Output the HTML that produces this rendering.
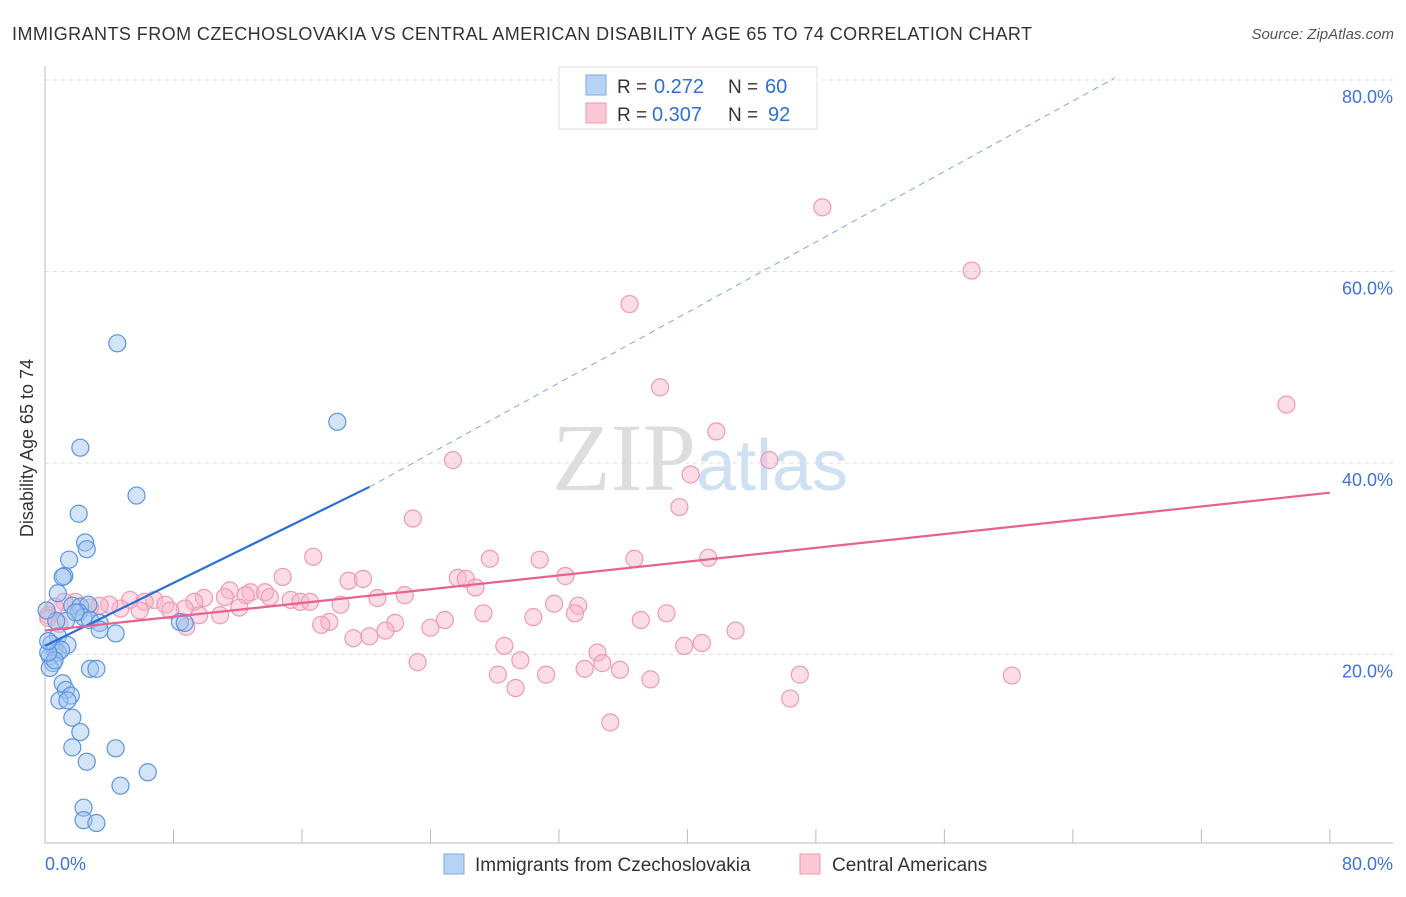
<!DOCTYPE html>
<html><head><meta charset="utf-8"><style>
body{margin:0;background:#fff;font-family:"Liberation Sans",sans-serif;}
</style></head><body>
<svg width="1406" height="892" xmlns="http://www.w3.org/2000/svg">
<text x="12" y="40" font-size="18" fill="#333" textLength="1020">IMMIGRANTS FROM CZECHOSLOVAKIA VS CENTRAL AMERICAN DISABILITY AGE 65 TO 74 CORRELATION CHART</text>
<text x="1394" y="39" font-size="15" fill="#555" text-anchor="end" font-style="italic">Source: ZipAtlas.com</text>
<g id="grid"></g>
<text x="700" y="490" font-size="96" fill="#ddd" text-anchor="middle" font-family="Liberation Serif">ZIP<tspan fill="#cfe0f3" font-family="Liberation Sans" font-size="72">atlas</tspan></text>
<g id="pts"></g>
<g id="lines"></g>
<text x="40" y="455" font-size="18" fill="#333" text-anchor="middle" transform="rotate(-90 33 455)">Disability Age 65 to 74</text>
<g>
<rect x="559" y="67" width="258" height="62" fill="#fff" stroke="#ddd"/>
<rect x="586" y="75" width="20" height="20" fill="#b7d3f4" stroke="#7aa8e6"/>
<rect x="586" y="103" width="20" height="20" fill="#fbc8d6" stroke="#ee9ab3"/>
<text x="617" y="93" font-size="19" fill="#333">R =</text>
<text x="654" y="93" font-size="20" fill="#2f6fd6">0.272</text>
<text x="728" y="93" font-size="19" fill="#333">N =</text>
<text x="765" y="93" font-size="20" fill="#2f6fd6">60</text>
<text x="617" y="121" font-size="19" fill="#333">R =</text>
<text x="652" y="121" font-size="20" fill="#2f6fd6">0.307</text>
<text x="728" y="121" font-size="19" fill="#333">N =</text>
<text x="768" y="121" font-size="20" fill="#2f6fd6">92</text>
</g>
<g>
<rect x="444" y="854" width="20" height="20" fill="#b7d3f4" stroke="#7aa8e6"/>
<text x="475" y="871" font-size="19" fill="#333">Immigrants from Czechoslovakia</text>
<rect x="800" y="854" width="20" height="20" fill="#fbc8d6" stroke="#ee9ab3"/>
<text x="832" y="871" font-size="19" fill="#333">Central Americans</text>
</g>
<text x="45" y="870" font-size="18" fill="#3d74d6">0.0%</text>
<text x="1393" y="870" font-size="18" fill="#3d74d6" text-anchor="end">80.0%</text>
</svg>
<script>
const yTicks=[20,40,60,80];
const blueX=[4.5,2.2,18.2,5.7,2.1,2.5,2.6,1.5,1.2,1.1,0.8,1.7,2.2,2.7,2.1,2.4,2.8,1.3,3.4,4.4,8.4,8.7,0.8,0.4,0.6,1.4,0.3,0.8,0.5,0.3,2.8,3.2,1.1,1.3,1.6,0.9,1.4,1.7,2.2,1.7,4.4,2.6,6.4,4.7,2.4,2.4,3.2,1.0,0.6,0.2,0.2,0.7,0.1,1.9,3.4];
const blueY=[52.5,41.6,44.3,36.6,34.7,31.7,31.0,29.9,28.2,28.1,26.4,25.1,25.0,25.2,24.4,23.9,23.6,23.5,23.3,22.2,23.4,23.3,21.9,21.1,20.5,21.0,19.8,20.2,19.1,18.6,18.5,18.5,17.0,16.3,15.7,15.2,15.2,13.4,11.9,10.3,10.2,8.8,7.7,6.3,4.0,2.7,2.4,20.5,19.4,20.2,21.4,23.5,24.6,24.4,22.6];
const pinkX=[48.4,57.7,36.4,77.3,38.3,41.8,25.4,45.1,40.2,22.9,39.5,16.7,27.7,30.8,36.7,41.3,14.8,18.9,19.8,25.7,26.2,32.4,26.8,5.3,6.8,20.7,22.4,11.5,12.8,13.7,9.9,11.2,12.5,14.0,15.3,15.9,16.5,9.3,8.7,7.5,6.2,4.7,4.0,3.4,2.8,1.9,1.2,0.6,0.2,5.9,7.8,10.9,12.1,9.6,18.4,27.3,31.7,33.2,17.7,17.2,21.8,24.0,24.9,30.4,33.0,37.1,38.7,8.8,19.2,20.2,21.2,28.6,34.4,34.7,35.8,29.6,23.2,31.2,33.6,37.7,39.8,40.9,43.0,47.0,46.4,28.2,29.3,35.2,60.2,0.2,0.9];
const pinkY=[66.7,60.1,56.6,46.1,47.9,43.3,40.3,40.3,38.8,34.2,35.4,30.2,30.0,29.9,30.0,30.1,28.1,27.7,27.9,28.0,27.9,28.2,27.0,25.7,25.7,25.9,26.2,26.7,26.5,26.5,25.9,26.0,26.2,26.0,25.7,25.5,25.5,25.5,24.8,25.2,25.5,24.8,25.2,25.1,24.9,25.5,25.5,25.0,24.1,24.6,24.6,24.1,24.9,24.1,25.2,24.3,25.3,25.1,23.4,23.1,23.3,22.8,23.6,23.9,24.3,23.6,24.3,22.9,21.7,21.9,22.5,20.9,20.2,19.1,18.4,19.4,19.2,17.9,18.5,17.4,20.9,21.2,22.5,17.9,15.4,17.9,16.5,12.9,17.8,23.8,23.2];
const X0=45,XS=16.06,Y0=846,YS=9.575;
const sx=v=>X0+v*XS, sy=v=>Y0-v*YS;
const NS="http://www.w3.org/2000/svg";
function mk(t,a,p){const e=document.createElementNS(NS,t);for(const k in a)e.setAttribute(k,a[k]);p.appendChild(e);return e;}
const g=document.getElementById('grid');
yTicks.forEach(t=>{
 const l=mk('line',{x1:45,x2:1393,y1:sy(t),y2:sy(t),stroke:'#ddd','stroke-dasharray':'4 4'},g);
 
 
 const tx=mk('text',{x:1393,y:sy(t)+23,'font-size':18,fill:'#3d74d6','text-anchor':'end'},g);
 tx.textContent=t.toFixed(1)+'%';
 
 
});
mk('line',{x1:45,x2:45,y1:66,y2:843,stroke:'#bbb'},g);
mk('line',{x1:45,x2:1393,y1:843,y2:843,stroke:'#bbb'},g);
for(let i=0;i<=10;i++){mk('line',{x1:sx(i*8),x2:sx(i*8),y1:829,y2:843,stroke:'#bbb'},g);}
const pg=document.getElementById('pts');
pinkX.forEach((v,i)=>{
 const c=mk('circle',{cx:sx(v),cy:sy(pinkY[i]),r:8.5,fill:'rgba(248,180,200,0.45)',stroke:'#ee9ab3','stroke-width':1.2},pg);
 
 
});
blueX.forEach((v,i)=>{
 const c=mk('circle',{cx:sx(v),cy:sy(blueY[i]),r:8.5,fill:'rgba(160,196,240,0.45)',stroke:'#5b95e0','stroke-width':1.2},pg);
 
 
});
const lg=document.getElementById('lines');
const bl=mk('line',{x1:sx(0),y1:sy(20.9),x2:sx(20.2),y2:sy(37.5),stroke:'#2a6fd6','stroke-width':2.2},lg);


const bd=mk('line',{x1:sx(20.2),y1:sy(37.5),x2:sx(66.6),y2:sy(80.2),stroke:'#7aa8e6','stroke-width':1,'stroke-dasharray':'6 5'},lg);


const pl=mk('line',{x1:sx(0),y1:sy(22.5),x2:sx(80),y2:sy(36.9),stroke:'#e8628e','stroke-width':2.2},lg);


</script>
</body></html>
